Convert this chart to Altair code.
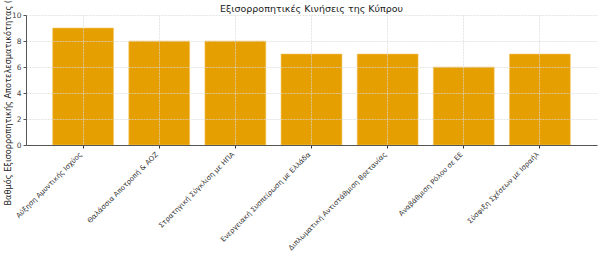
import altair as alt
import pandas as pd

categories = [
    "Αύξηση Αμυντικής Ισχύος",
    "Θαλάσσια Αποτροπή & ΑΟΖ",
    "Στρατηγική Σύγκλιση με ΗΠΑ",
    "Ενεργειακή Συσπείρωση με Ελλάδα",
    "Διπλωματική Αντιστάθμιση Βρετανίας",
    "Αναβάθμιση Ρόλου σε ΕΕ",
    "Σύσφιξη Σχέσεων με Ισραήλ",
]
scores = [9, 8, 8, 7, 7, 6, 7]

df = pd.DataFrame({"cat": categories, "score": scores})

FONT = "DejaVu Sans"

chart = (
    alt.Chart(df)
    .mark_bar(color="#E69F00", stroke="#F5C96A", strokeWidth=0.6)
    .encode(
        x=alt.X(
            "cat:N",
            sort=categories,
            title=None,
            scale=alt.Scale(paddingInner=0.2, paddingOuter=0.35),
            axis=alt.Axis(
                labelAngle=-45,
                labelAlign="right",
                labelBaseline="middle",
                labelOffset=-2,
                labelFontSize=7,
                labelColor="#333333",
                labelPadding=5,
                tickSize=3,
                tickColor="#333333",
                domainColor="#555555",
                grid=True,
                gridColor="#d8d8d8",
                gridDash=[2, 1],
                gridOpacity=0.7,
                labelLimit=400,
                zindex=1,
            ),
        ),
        y=alt.Y(
            "score:Q",
            title="Βαθμός Εξισορροπητικής Αποτελεσματικότητας (1-10)",
            scale=alt.Scale(domain=[0, 10], nice=False),
            axis=alt.Axis(
                values=[0, 2, 4, 6, 8, 10],
                labelFontSize=7.5,
                labelColor="#444444",
                labelPadding=2,
                tickSize=3,
                tickColor="#555555",
                domainColor="#555555",
                gridColor="#d8d8d8",
                gridDash=[2, 1],
                gridOpacity=0.7,
                titleFontSize=8.2,
                titleFontWeight="normal",
                titleColor="#222222",
                titleAngle=-90,
                titleAlign="left",
                titleBaseline="middle",
                titleX=-18,
                titleY=190,
                zindex=1,
            ),
        ),
    )
    .properties(
        width=571,
        height=130,
        autosize=alt.AutoSizeParams(type="none"),
        padding={"left": 26, "top": 15, "right": 3, "bottom": 111},
        title=alt.TitleParams(
            "Εξισορροπητικές Κινήσεις της Κύπρου",
            fontSize=9.5,
            fontWeight="normal",
            color="#222222",
            font=FONT,
            frame="group",
            offset=1,
            dy=37,
        ),
    )
    .configure(font=FONT)
    .configure_view(stroke=None)
)

chart.save("out.html", embed_options={"renderer": "svg", "actions": False})
